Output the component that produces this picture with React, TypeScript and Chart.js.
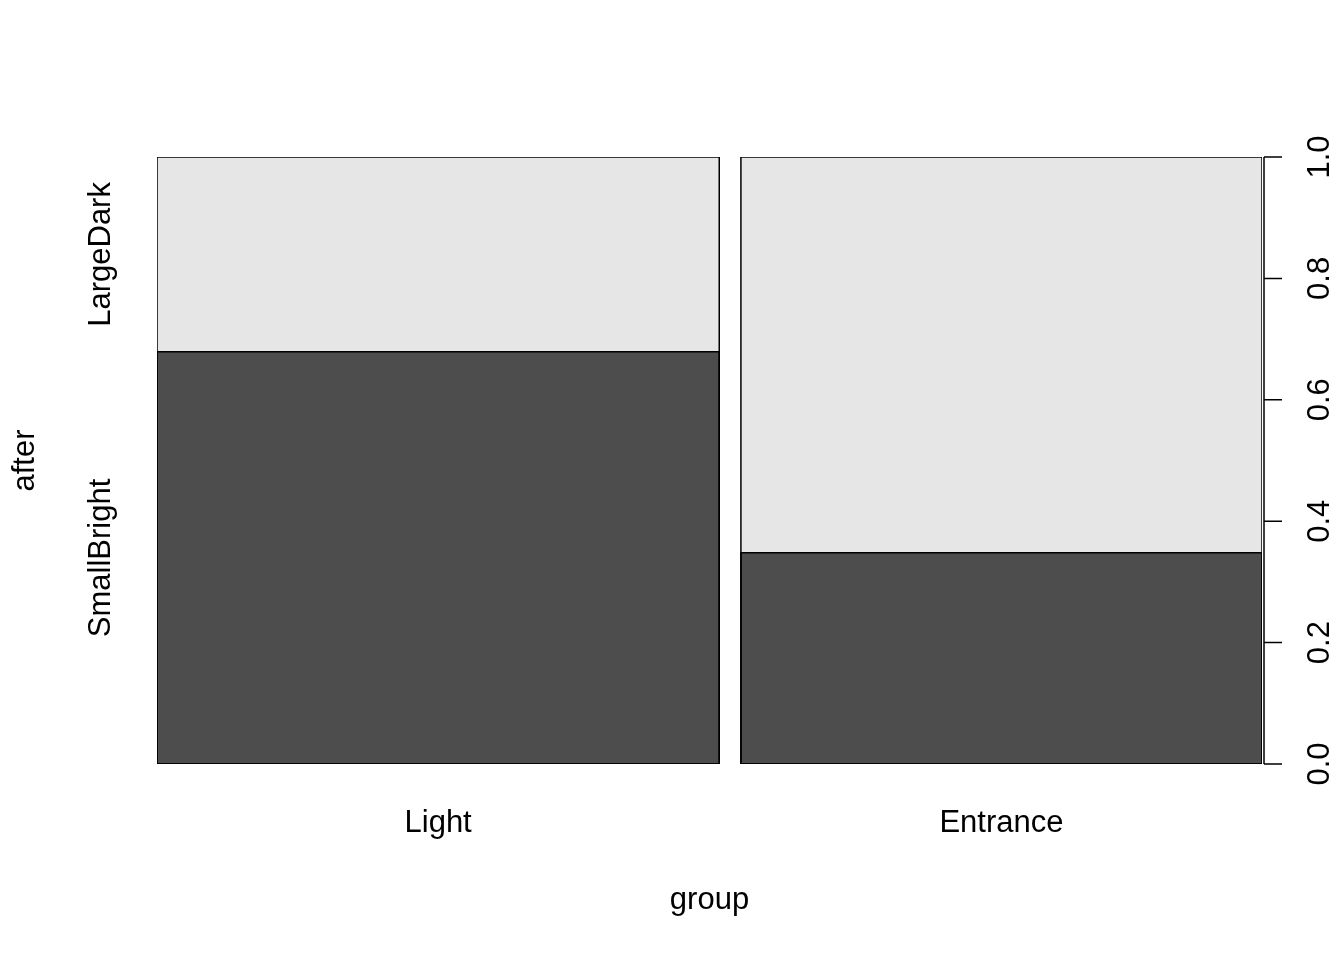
import React, { useEffect, useRef } from 'react';
import Chart from 'chart.js/auto';

const groups = ['Light', 'Entrance'];
const groupShare = [0.519, 0.481];
const afterLevels = ['SmallBright', 'LargeDark'];
const smallBrightShare = [0.679, 0.348];
const yTicks = [0, 0.2, 0.4, 0.6, 0.8, 1.0];
const GAP = 0.02;

const DARK = '#4d4d4d';
const LIGHT = '#e6e6e6';
const FONT = '31px Arial, "Liberation Sans", sans-serif';

function rect(x0: number, x1: number, y: number) {
  return [
    { x: x0, y: 0 },
    { x: x0, y },
    { x: x1, y },
    { x: x1, y: 0 },
    { x: x0, y: 0 },
  ];
}

const App: React.FC = () => {
  const ref = useRef<HTMLCanvasElement | null>(null);

  useEffect(() => {
    document.body.style.margin = '0';
    if (!ref.current) return;
    const starts: number[] = [];
    let acc = 0;
    groupShare.forEach((w, i) => {
      starts.push(acc);
      acc += w + (i < groupShare.length - 1 ? GAP : 0);
    });
    const datasets: any[] = [];
    groups.forEach((g, i) => {
      const x0 = starts[i];
      const x1 = x0 + groupShare[i];
      datasets.push({
        data: rect(x0, x1, 1),
        backgroundColor: LIGHT,
        borderColor: '#000',
        borderWidth: 1.5,
        fill: false,
        pointRadius: 0,
        tension: 0,
      });
      datasets.push({
        data: rect(x0, x1, smallBrightShare[i]),
        backgroundColor: DARK,
        borderColor: '#000',
        borderWidth: 1.5,
        fill: false,
        pointRadius: 0,
        tension: 0,
      });
    });

    // fill each rectangle polygon from the library's computed point positions
    const polyFill = {
      id: 'polyFill',
      beforeDatasetsDraw(chart: any) {
        const { ctx } = chart;
        ctx.save();
        chart.data.datasets.forEach((ds: any, i: number) => {
          const pts = chart.getDatasetMeta(i).data;
          ctx.beginPath();
          pts.forEach((p: any, j: number) => (j ? ctx.lineTo(p.x, p.y) : ctx.moveTo(p.x, p.y)));
          ctx.closePath();
          ctx.fillStyle = ds.backgroundColor;
          ctx.fill();
        });
        ctx.restore();
      },
    };

    const labels = {
      id: 'rlabels',
      afterDraw(chart: any) {
        const { ctx, scales, chartArea } = chart;
        const xs = scales.x;
        const ys = scales.y;
        ctx.save();
        ctx.fillStyle = '#000';
        ctx.strokeStyle = '#000';
        ctx.lineWidth = 1.5;
        ctx.font = FONT;
        ctx.textAlign = 'center';
        ctx.textBaseline = 'middle';
        groups.forEach((g, i) => {
          ctx.fillText(g, xs.getPixelForValue(starts[i] + groupShare[i] / 2), 823);
        });
        ctx.fillText('group', (chartArea.left + chartArea.right) / 2, 900);
        const ax = chartArea.right + 2;
        ctx.beginPath();
        ctx.moveTo(ax, ys.getPixelForValue(0));
        ctx.lineTo(ax, ys.getPixelForValue(1));
        yTicks.forEach((t) => {
          const py = ys.getPixelForValue(t);
          ctx.moveTo(ax, py);
          ctx.lineTo(ax + 18, py);
        });
        ctx.stroke();
        yTicks.forEach((t) => {
          const py = ys.getPixelForValue(t);
          ctx.save();
          ctx.translate(1320, py);
          ctx.rotate(-Math.PI / 2);
          ctx.fillText(t.toFixed(1), 0, 0);
          ctx.restore();
        });
        const mids = [smallBrightShare[0] / 2, (1 + smallBrightShare[0]) / 2];
        afterLevels.forEach((lv, i) => {
          ctx.save();
          ctx.translate(101, ys.getPixelForValue(mids[i]));
          ctx.rotate(-Math.PI / 2);
          ctx.fillText(lv, 0, 0);
          ctx.restore();
        });
        ctx.save();
        ctx.translate(25, (chartArea.top + chartArea.bottom) / 2);
        ctx.rotate(-Math.PI / 2);
        ctx.fillText('after', 0, 0);
        ctx.restore();
        ctx.restore();
      },
    };

    const chart = new Chart(ref.current, {
      type: 'line',
      data: { datasets },
      options: {
        animation: false,
        responsive: false,
        layout: { padding: { left: 157, right: 82, top: 157, bottom: 196 } },
        plugins: { legend: { display: false }, tooltip: { enabled: false } },
        scales: {
          x: { type: 'linear', display: false, min: 0, max: acc },
          y: { type: 'linear', display: false, min: 0, max: 1 },
        },
      },
      plugins: [polyFill, labels],
    });
    return () => chart.destroy();
  }, []);

  return <canvas ref={ref} width={1344} height={960} style={{ display: 'block' }} />;
};

export default App;
